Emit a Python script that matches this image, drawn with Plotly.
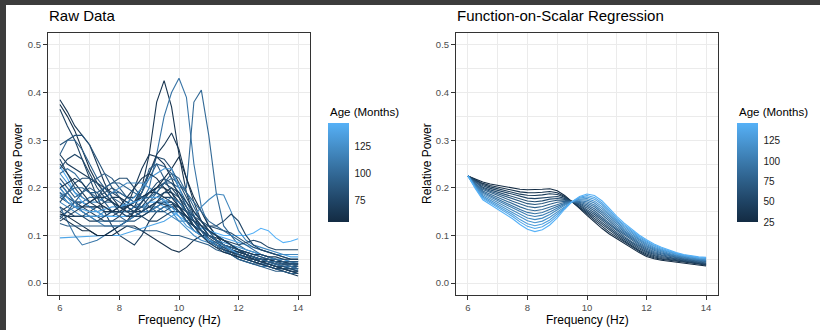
import plotly.graph_objects as go

# ---------------- data ----------------
FREQ = [6 + 0.25 * i for i in range(33)]

RAW_AGES = [62, 108, 100, 65, 58, 72, 85, 95, 140, 147, 120, 110, 60, 66, 78, 90,
            70, 125, 82, 75, 98, 130, 64, 88, 55, 115, 92, 68, 102, 74, 135, 80,
            63, 76, 96, 70]

RAW_CURVES = [
    [.15,.16,.17,.17, .16,.15,.14,.14, .15,.16,.17,.20, .27,.38,.425,.37, .27,.19,.14,.11, .09,.08,.07,.06, .055,.05,.05,.045, .045,.04,.04,.04, .04],
    [.19,.18,.17,.17, .16,.16,.15,.15, .15,.15,.16,.17, .20,.27,.35,.40, .43,.39,.25,.16, .12,.10,.09,.08, .07,.06,.055,.05, .05,.045,.045,.04, .04],
    [.14,.15,.16,.17, .18,.18,.17,.17, .16,.16,.17,.18, .19,.20,.21,.21, .20,.20,.38,.405, .31,.19,.12,.10, .08,.07,.065,.06, .055,.05,.05,.045, .045],
    [.385,.36,.33,.31, .29,.25,.21,.18, .16,.15,.16,.19, .23,.27,.29,.315, .28,.22,.17,.13, .11,.09,.08,.07, .06,.055,.05,.05, .045,.04,.035,.035, .03],
    [.375,.35,.32,.28, .24,.21,.19,.17, .16,.16,.17,.18, .19,.20,.22,.24, .265,.22,.18,.15, .12,.10,.08,.07, .06,.055,.05,.045, .04,.035,.03,.03, .025],
    [.365,.33,.30,.26, .22,.18,.15,.12, .10,.09,.08,.10, .13,.15,.16,.165, .16,.14,.12,.10, .09,.08,.07,.065, .06,.055,.05,.05, .045,.045,.04,.04, .04],
    [.29,.30,.31,.31, .29,.26,.23,.20, .18,.17,.16,.16, .17,.18,.19,.19, .18,.16,.14,.12, .10,.09,.08,.07, .06,.055,.05,.05, .045,.04,.04,.035, .035],
    [.27,.30,.30,.28, .25,.22,.20,.18, .17,.16,.17,.19, .22,.25,.245,.23, .20,.17,.14,.12, .10,.09,.08,.075, .07,.065,.06,.055, .05,.05,.045,.045, .045],
    [.095,.096,.097,.098, .098,.099,.10,.10, .10,.105,.11,.115, .12,.125,.13,.14, .15,.14,.13,.12, .11,.10,.095,.09, .085,.08,.075,.07, .065,.06,.06,.055, .055],
    [.245,.22,.19,.17, .16,.15,.14,.14, .14,.14,.15,.16, .17,.17,.16,.15, .14,.13,.12,.115, .11,.105,.10,.10, .10,.10,.105,.115, .11,.095,.085,.088, .093],
    [.17,.16,.15,.14, .14,.14,.15,.15, .15,.15,.16,.16, .16,.16,.15,.14, .13,.13,.14,.16, .175,.187,.185,.15, .11,.09,.08,.075, .07,.065,.06,.06, .06],
    [.16,.13,.10,.08, .085,.09,.10,.11, .12,.13,.14,.15, .16,.17,.17,.16, .15,.13,.11,.10, .09,.08,.075,.07, .065,.06,.055,.05, .05,.045,.045,.04, .04],
    [.14,.13,.12,.11, .11,.10,.10,.10, .11,.12,.12,.11, .10,.09,.08,.07, .065,.075,.09,.10, .10,.095,.09,.08, .07,.06,.055,.05, .05,.045,.04,.04, .035],
    [.21,.19,.17,.16, .15,.14,.13,.13, .14,.16,.20,.24, .27,.265,.25,.22, .18,.15,.13,.11, .10,.09,.08,.07, .06,.05,.045,.04, .035,.03,.025,.02, .015],
    [.26,.23,.20,.18, .17,.18,.19,.20, .19,.18,.18,.20, .23,.265,.26,.24, .21,.18,.15,.13, .11,.10,.09,.08, .07,.06,.055,.05, .045,.04,.035,.03, .03],
    [.22,.20,.18,.19, .21,.22,.23,.22, .20,.18,.17,.19, .24,.25,.22,.19, .16,.13,.11,.10, .09,.08,.075,.07, .065,.06,.055,.05, .045,.04,.035,.035, .03],
    [.15,.14,.14,.14, .15,.16,.17,.18, .18,.17,.16,.15, .15,.16,.17,.17, .16,.15,.14,.12, .10,.09,.07,.06, .05,.045,.04,.04, .035,.03,.025,.02, .02],
    [.23,.21,.19,.18, .17,.17,.18,.19, .20,.21,.21,.21, .20,.19,.17,.15, .13,.115,.10,.09, .085,.08,.075,.07, .06,.05,.045,.04, .035,.03,.03,.025, .025],
    [.20,.18,.17,.16, .17,.18,.20,.21, .22,.22,.20,.18, .16,.15,.15,.16, .16,.15,.14,.13, .12,.115,.11,.105, .095,.085,.075,.07, .065,.06,.055,.05, .05],
    [.18,.17,.16,.16, .16,.16,.16,.15, .15,.14,.14,.15, .16,.17,.18,.18, .17,.15,.13,.12, .12,.12,.13,.145, .13,.10,.08,.07, .065,.06,.055,.05, .05],
    [.19,.17,.16,.15, .14,.13,.13,.13, .13,.13,.14,.15, .17,.19,.21,.22, .21,.19,.17,.15, .13,.12,.11,.10, .09,.08,.07,.06, .055,.05,.045,.045, .04],
    [.20,.18,.16,.15, .14,.14,.14,.15, .16,.17,.18,.20, .22,.23,.24,.24, .20,.16,.13,.11, .10,.09,.085,.08, .075,.07,.065,.06, .055,.05,.05,.045, .045],
    [.25,.23,.21,.19, .17,.16,.15,.15, .15,.16,.17,.18, .19,.19,.18,.17, .15,.13,.12,.11, .10,.09,.08,.07, .065,.06,.055,.05, .05,.045,.045,.04, .04],
    [.135,.15,.17,.19, .20,.19,.17,.15, .14,.13,.13,.14, .15,.16,.17,.17, .16,.14,.12,.11, .10,.09,.08,.075, .07,.065,.06,.055, .05,.05,.045,.045, .045],
    [.145,.14,.13,.12, .11,.10,.10,.11, .12,.13,.15,.17, .19,.20,.20,.19, .17,.15,.13,.11, .09,.08,.07,.065, .06,.055,.05,.045, .04,.035,.03,.025, .02],
    [.21,.19,.17,.15, .14,.13,.12,.12, .12,.13,.14,.15, .15,.16,.17,.18, .17,.15,.13,.11, .09,.08,.07,.06, .05,.045,.04,.035, .035,.03,.03,.03, .03],
    [.125,.12,.12,.12, .12,.12,.12,.12, .12,.12,.115,.11, .11,.11,.105,.10, .10,.095,.09,.085, .08,.07,.065,.06, .05,.045,.04,.035, .03,.025,.025,.02, .02],
    [.27,.25,.24,.23, .22,.21,.20,.19, .18,.16,.15,.15, .16,.17,.165,.16, .15,.14,.12,.10, .09,.085,.08,.075, .07,.065,.06,.06, .055,.055,.05,.05, .05],
    [.23,.24,.23,.21, .19,.18,.18,.19, .19,.18,.17,.16, .15,.15,.16,.16, .15,.13,.11,.10, .09,.085,.08,.07, .06,.055,.05,.045, .04,.04,.035,.035, .03],
    [.16,.15,.14,.14, .13,.13,.14,.15, .16,.16,.15,.14, .13,.13,.14,.15, .15,.14,.13,.12, .11,.10,.09,.085, .08,.085,.09,.085, .075,.07,.07,.07, .07],
    [.185,.17,.16,.155, .15,.15,.155,.16, .16,.165,.17,.175, .18,.18,.175,.16, .14,.12,.11,.10, .09,.085,.08,.07, .06,.05,.045,.04, .04,.035,.035,.03, .03],
    [.17,.19,.21,.22, .22,.21,.19,.17, .15,.14,.15,.17, .19,.21,.22,.21, .19,.16,.13,.11, .095,.085,.075,.065, .055,.05,.045,.04, .04,.035,.035,.03, .03],
    [.20,.21,.22,.21, .19,.17,.16,.15, .16,.18,.20,.22, .23,.22,.20,.18, .16,.14,.12,.10, .085,.075,.065,.06, .055,.05,.045,.04, .035,.03,.03,.025, .025],
    [.24,.26,.27,.26, .23,.20,.18,.17, .16,.15,.15,.16, .18,.20,.21,.20, .18,.15,.12,.10, .085,.075,.07,.065, .06,.055,.05,.045, .04,.035,.03,.03, .025],
    [.18,.19,.20,.20, .19,.19,.20,.21, .21,.20,.19,.18, .18,.19,.21,.23, .22,.19,.16,.13, .11,.09,.08,.075, .07,.06,.055,.05, .045,.045,.04,.04, .035],
    [.13,.14,.15,.16, .17,.18,.18,.17, .16,.15,.14,.14, .15,.17,.19,.20, .19,.17,.15,.13, .11,.10,.09,.08, .07,.06,.05,.045, .04,.035,.03,.025, .02],
]

# Function-on-scalar regression: predicted curves at the youngest and oldest ages
FOSR_AGES = [25, 34, 42, 51, 60, 68, 77, 86, 95, 103, 112, 121, 130, 138, 147]
FOSR_YOUNG = [.225,.218,.212,.208, .205,.202,.199,.197, .196,.196,.197,.198, .194,.184,.171,.157,
              .142,.128,.115,.103, .093,.083,.073,.064, .056,.051,.048,.046, .045,.043,.041,.039, .036]
FOSR_OLD = [.225,.198,.175,.165, .156,.146,.135,.123, .113,.108,.112,.122, .137,.155,.171,.182,
            .187,.184,.173,.157, .140,.126,.113,.101, .091,.082,.075,.069, .064,.060,.057,.055, .054]

X_TICKS = [6, 8, 10, 12, 14]
Y_TICKS = [0.0, 0.1, 0.2, 0.3, 0.4, 0.5]
RAW_CB_TICKS = [75, 100, 125]
FOSR_CB_TICKS = [25, 50, 75, 100, 125]

# ---------------- helpers ----------------
W, H = 820, 330
LOW, HIGH = "#132B43", "#56B1F7"
FONT = "Liberation Sans, Arial, Helvetica, sans-serif"


def _lin(c):
    return c / 12.92 if c <= 0.04045 else ((c + 0.055) / 1.055) ** 2.4


def _gam(c):
    c = max(0.0, min(1.0, c))
    return 12.92 * c if c <= 0.0031308 else 1.055 * c ** (1 / 2.4) - 0.055


def hex2lab(h):
    r, g, b = [_lin(int(h[i:i + 2], 16) / 255) for i in (1, 3, 5)]
    X = (0.4124 * r + 0.3576 * g + 0.1805 * b) / 0.95047
    Y = (0.2126 * r + 0.7152 * g + 0.0722 * b)
    Z = (0.0193 * r + 0.1192 * g + 0.9505 * b) / 1.08883
    f = lambda t: t ** (1 / 3) if t > (6 / 29) ** 3 else t / (3 * (6 / 29) ** 2) + 4 / 29
    return 116 * f(Y) - 16, 500 * (f(X) - f(Y)), 200 * (f(Y) - f(Z))


def lab2hex(L, a, b):
    fy = (L + 16) / 116
    fx = fy + a / 500
    fz = fy - b / 200
    finv = lambda t: t ** 3 if t > 6 / 29 else 3 * (6 / 29) ** 2 * (t - 4 / 29)
    X, Y, Z = finv(fx) * 0.95047, finv(fy), finv(fz) * 1.08883
    r = 3.2406 * X - 1.5372 * Y - 0.4986 * Z
    g = -0.9689 * X + 1.8758 * Y + 0.0415 * Z
    bb = 0.0557 * X - 0.2040 * Y + 1.0570 * Z
    return "#%02x%02x%02x" % tuple(int(round(_gam(c) * 255)) for c in (r, g, bb))


LAB_LO, LAB_HI = hex2lab(LOW), hex2lab(HIGH)


def grad(t):
    return lab2hex(*[lo + (hi - lo) * t for lo, hi in zip(LAB_LO, LAB_HI)])


COLORSCALE = [[i / 20, grad(i / 20)] for i in range(21)]


def px(x):
    return x / W


def py(y):
    return 1 - y / H


# panel pixel boxes
P1 = dict(x0=48, x1=310, y0=33, y1=295)
P2 = dict(x0=456, x1=718, y0=33, y1=295)

fig = go.Figure()

# raw data lines
rmin, rmax = min(RAW_AGES), max(RAW_AGES)
for age, ys in zip(RAW_AGES, RAW_CURVES):
    fig.add_trace(go.Scatter(x=FREQ, y=ys, mode="lines", xaxis="x", yaxis="y",
                             line=dict(color=grad((age - rmin) / (rmax - rmin)), width=1.1),
                             showlegend=False, hoverinfo="skip"))

# fitted lines (linear in age, as in the regression model)
fmin, fmax = min(FOSR_AGES), max(FOSR_AGES)
for age in FOSR_AGES:
    t = (age - fmin) / (fmax - fmin)
    ys = [a + (b - a) * t for a, b in zip(FOSR_YOUNG, FOSR_OLD)]
    fig.add_trace(go.Scatter(x=FREQ, y=ys, mode="lines", xaxis="x2", yaxis="y2",
                             line=dict(color=grad(t), width=1.1),
                             showlegend=False, hoverinfo="skip"))

CB_TOP, CB_LEN, CB_W = 123, 99, 21


def colorbar_trace(xa, ya, cmin, cmax, ticks, left):
    return go.Scatter(
        x=[10, 10], y=[0.2, 0.2], mode="markers", xaxis=xa, yaxis=ya,
        showlegend=False, hoverinfo="skip",
        marker=dict(size=1, opacity=0, color=[cmin, cmax], cmin=cmin, cmax=cmax,
                    colorscale=COLORSCALE, showscale=True,
                    colorbar=dict(x=px(left), xanchor="left", y=py(CB_TOP), yanchor="top",
                                  len=CB_LEN, lenmode="pixels", thickness=CB_W,
                                  thicknessmode="pixels", xpad=0, ypad=0, outlinewidth=0,
                                  tickvals=ticks, ticks="outside", ticklen=4,
                                  tickcolor="rgba(0,0,0,0)", tickwidth=1,
                                  tickfont=dict(family=FONT, size=10, color="#1a1a1a"))))


fig.add_trace(colorbar_trace("x", "y", rmin, rmax, RAW_CB_TICKS, 328))
fig.add_trace(colorbar_trace("x2", "y2", fmin, fmax, FOSR_CB_TICKS, 737))

shapes = []
for left, cmin, cmax, ticks in ((328, rmin, rmax, RAW_CB_TICKS), (737, fmin, fmax, FOSR_CB_TICKS)):
    for v in ticks:
        yy = CB_TOP + (cmax - v) / (cmax - cmin) * CB_LEN
        for a0, a1 in ((left, left + 4), (left + CB_W - 4, left + CB_W)):
            shapes.append(dict(type="line", xref="paper", yref="paper",
                               x0=px(a0), x1=px(a1), y0=py(yy), y1=py(yy),
                               line=dict(color="white", width=1), layer="above"))

# dark frame at top and left edges
shapes.append(dict(type="rect", xref="paper", yref="paper", x0=0, x1=1, y0=py(5), y1=1,
                   fillcolor="#3c3c3c", line=dict(width=0), layer="above"))
shapes.append(dict(type="rect", xref="paper", yref="paper", x0=0, x1=px(6), y0=0, y1=1,
                   fillcolor="#3c3c3c", line=dict(width=0), layer="above"))

ax_common = dict(showgrid=True, gridcolor="#EBEBEB", gridwidth=1.07, zeroline=False,
                 showline=True, mirror=True, linecolor="#333333", linewidth=1.07,
                 ticks="outside", ticklen=4, tickcolor="#333333", tickwidth=1.07,
                 tickfont=dict(family=FONT, size=9.5, color="#4D4D4D"), automargin=False)

xa = dict(ax_common, range=[5.6, 14.4], tickvals=X_TICKS,
          minor=dict(tickvals=[7, 9, 11, 13], showgrid=True, gridcolor="#EBEBEB", gridwidth=0.53, ticks=""))
ya = dict(ax_common, range=[-0.025, 0.525], tickvals=Y_TICKS, tickformat=".1f",
          minor=dict(tickvals=[0.05, 0.15, 0.25, 0.35, 0.45], showgrid=True,
                     gridcolor="#EBEBEB", gridwidth=0.53, ticks=""))

annotations = []


def ann(text, x, y, size, xanchor="center", yanchor="middle", angle=0, color="black"):
    annotations.append(dict(text=text, x=px(x), y=py(y), xref="paper", yref="paper",
                            showarrow=False, xanchor=xanchor, yanchor=yanchor,
                            textangle=angle, font=dict(family=FONT, size=size, color=color)))


ann("Raw Data", 47, 16, 15, xanchor="left")
ann("Function-on-Scalar Regression", 455, 16, 15, xanchor="left")
ann("Frequency (Hz)", 179, 320, 12)
ann("Frequency (Hz)", 587, 320, 12)
ann("Relative Power", 18, 164, 12, angle=-90)
ann("Relative Power", 427, 164, 12, angle=-90)
ann("Age (Months)", 328, 112, 11.5, xanchor="left")
ann("Age (Months)", 737, 112, 11.5, xanchor="left")

fig.update_layout(
    width=W, height=H, margin=dict(l=0, r=0, t=0, b=0),
    paper_bgcolor="white", plot_bgcolor="white", template="none",
    xaxis=dict(xa, domain=[px(P1["x0"]), px(P1["x1"])], anchor="y"),
    yaxis=dict(ya, domain=[py(P1["y1"]), py(P1["y0"])], anchor="x"),
    xaxis2=dict(xa, domain=[px(P2["x0"]), px(P2["x1"])], anchor="y2"),
    yaxis2=dict(ya, domain=[py(P2["y1"]), py(P2["y0"])], anchor="x2"),
    shapes=shapes, annotations=annotations, showlegend=False,
    font=dict(family=FONT),
)

fig.write_html("out.html", config={"displayModeBar": False})
